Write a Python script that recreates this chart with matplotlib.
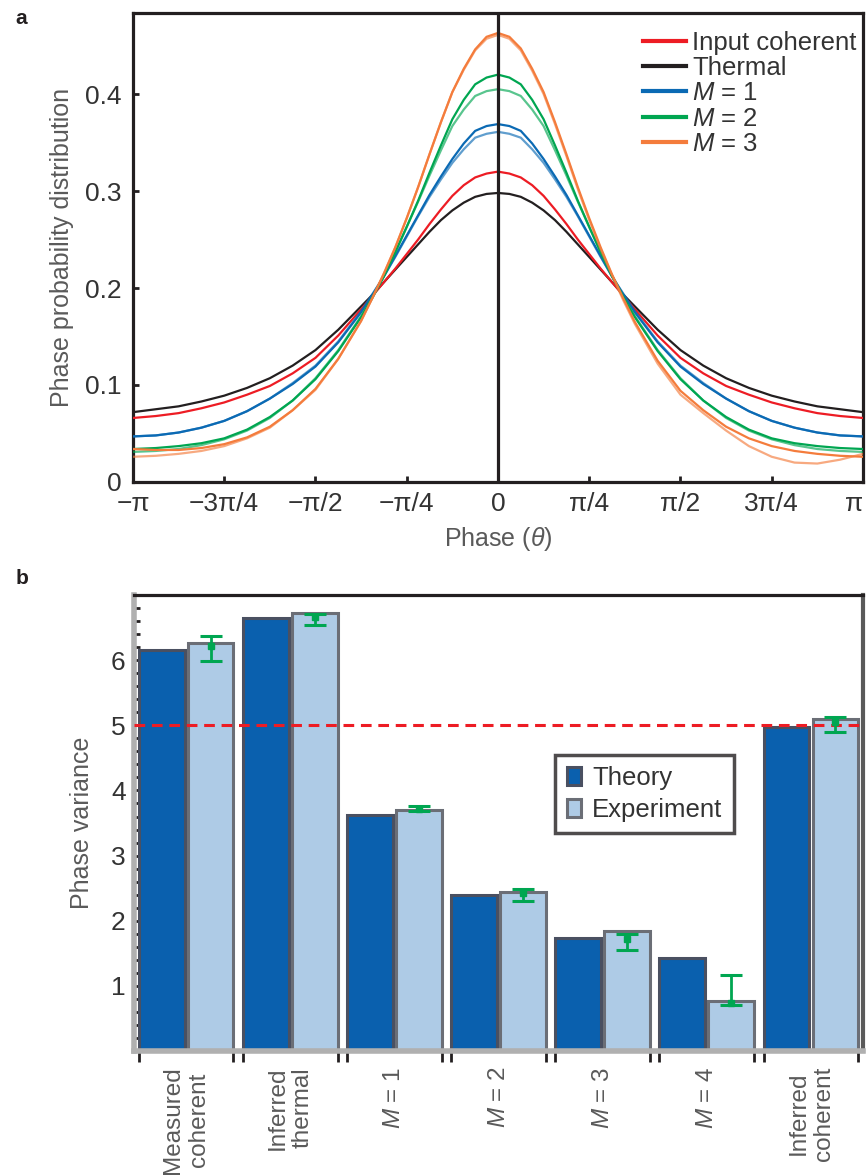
import numpy as np
import matplotlib
matplotlib.use("Agg")
from matplotlib import pyplot as plt
from matplotlib.ticker import MultipleLocator, FixedLocator

plt.rcParams['font.family'] = ['Liberation Sans', 'DejaVu Sans']
plt.rcParams['mathtext.fontset'] = 'custom'
plt.rcParams['mathtext.rm'] = 'Liberation Sans'
plt.rcParams['mathtext.it'] = 'Liberation Sans:italic'

# ---- panel a: phase distributions, phase given in units of pi/32 ----
phase_steps = [-32, -30, -28, -26, -24, -22, -20, -18, -16, -14,
               -12, -11, -10, -9, -8, -7, -6, -5, -4, -3, -2, -1, 0,
               1, 2, 3, 4, 5, 6, 7, 8, 9, 10, 11, 12,
               14, 16, 18, 20, 22, 24, 26, 28, 30, 32]
thermal = [0.072, 0.075, 0.078, 0.083, 0.089, 0.097, 0.107, 0.120, 0.136, 0.157,
           0.181, 0.193, 0.206, 0.219, 0.232, 0.245, 0.258, 0.270, 0.280, 0.288, 0.294, 0.297, 0.298,
           0.297, 0.294, 0.288, 0.280, 0.270, 0.258, 0.245, 0.232, 0.219, 0.206, 0.193, 0.181,
           0.157, 0.136, 0.120, 0.107, 0.097, 0.089, 0.083, 0.078, 0.075, 0.072]
coherent = [0.066, 0.068, 0.071, 0.076, 0.082, 0.090, 0.099, 0.112, 0.128, 0.151,
            0.178, 0.192, 0.206, 0.220, 0.235, 0.250, 0.266, 0.281, 0.295, 0.306, 0.314, 0.318, 0.320,
            0.318, 0.314, 0.306, 0.295, 0.281, 0.266, 0.250, 0.235, 0.220, 0.206, 0.192, 0.178,
            0.151, 0.128, 0.112, 0.099, 0.090, 0.082, 0.076, 0.071, 0.068, 0.066]
m1_a = [0.047, 0.048, 0.051, 0.056, 0.063, 0.073, 0.086, 0.101, 0.119, 0.144,
        0.175, 0.193, 0.212, 0.233, 0.254, 0.275, 0.296, 0.315, 0.333, 0.349, 0.362, 0.367, 0.369,
        0.367, 0.362, 0.349, 0.333, 0.315, 0.296, 0.275, 0.254, 0.233, 0.212, 0.193, 0.175,
        0.144, 0.119, 0.101, 0.086, 0.073, 0.063, 0.056, 0.051, 0.048, 0.047]
m1_b = [0.047, 0.048, 0.051, 0.056, 0.063, 0.073, 0.086, 0.102, 0.120, 0.145,
        0.176, 0.194, 0.212, 0.232, 0.253, 0.274, 0.294, 0.312, 0.329, 0.343, 0.355, 0.359, 0.361,
        0.359, 0.355, 0.343, 0.329, 0.312, 0.294, 0.274, 0.253, 0.232, 0.212, 0.194, 0.176,
        0.145, 0.120, 0.102, 0.086, 0.073, 0.063, 0.056, 0.051, 0.048, 0.047]
m2_a = [0.034, 0.035, 0.037, 0.040, 0.045, 0.054, 0.067, 0.084, 0.106, 0.135,
        0.170, 0.190, 0.212, 0.237, 0.263, 0.290, 0.319, 0.347, 0.374, 0.394, 0.410, 0.417, 0.420,
        0.417, 0.410, 0.394, 0.374, 0.347, 0.319, 0.290, 0.263, 0.237, 0.212, 0.190, 0.170,
        0.135, 0.106, 0.084, 0.067, 0.054, 0.045, 0.040, 0.037, 0.035, 0.034]
m2_b = [0.031, 0.032, 0.034, 0.038, 0.044, 0.053, 0.066, 0.084, 0.107, 0.136,
        0.171, 0.191, 0.213, 0.237, 0.263, 0.289, 0.316, 0.342, 0.367, 0.384, 0.398, 0.403, 0.405,
        0.403, 0.398, 0.384, 0.367, 0.342, 0.316, 0.289, 0.263, 0.237, 0.213, 0.191, 0.171,
        0.136, 0.107, 0.084, 0.066, 0.053, 0.044, 0.038, 0.034, 0.032, 0.031]
m3_a = [0.034, 0.033, 0.033, 0.035, 0.039, 0.046, 0.057, 0.074, 0.096, 0.127,
        0.166, 0.190, 0.215, 0.242, 0.272, 0.304, 0.338, 0.371, 0.402, 0.426, 0.446, 0.459, 0.463,
        0.459, 0.447, 0.426, 0.402, 0.371, 0.338, 0.304, 0.272, 0.242, 0.214, 0.189, 0.165,
        0.125, 0.094, 0.074, 0.057, 0.045, 0.037, 0.032, 0.029, 0.027, 0.026]
m3_b = [0.026, 0.027, 0.029, 0.032, 0.037, 0.045, 0.056, 0.074, 0.095, 0.127,
        0.166, 0.190, 0.215, 0.242, 0.272, 0.304, 0.338, 0.371, 0.402, 0.425, 0.445, 0.457, 0.461,
        0.457, 0.445, 0.424, 0.400, 0.369, 0.336, 0.302, 0.270, 0.240, 0.213, 0.187, 0.163,
        0.122, 0.090, 0.071, 0.053, 0.037, 0.026, 0.020, 0.019, 0.023, 0.029]

phase_tick_labels = ['\u2212\u03c0', '\u22123\u03c0/4', '\u2212\u03c0/2', '\u2212\u03c0/4', '0',
                     '\u03c0/4', '\u03c0/2', '3\u03c0/4', '\u03c0']

# ---- panel b: phase variance ----
groups = ['Measured\ncoherent', 'Inferred\nthermal', '$M$ = 1', '$M$ = 2', '$M$ = 3', '$M$ = 4', 'Inferred\ncoherent']
theory = [6.15, 6.65, 3.63, 2.39, 1.74, 1.43, 4.98]
experiment = [6.26, 6.72, 3.70, 2.44, 1.84, 0.77, 5.10]
exp_point = [6.22, 6.66, 3.72, 2.42, 1.72, 0.74, 5.05]
exp_low = [5.99, 6.54, 3.68, 2.31, 1.55, 0.71, 4.89]
exp_high = [6.37, 6.71, 3.76, 2.48, 1.80, 1.17, 5.12]
coherent_limit = 5.0

RED = '#ed1c24'
BLACK = '#231f20'
BLUE = '#0b6ab4'
GREEN = '#00a651'
ORANGE = '#f47c3c'
TXT = '#333333'
LBL = '#5a5a5a'

fig = plt.figure(figsize=(8.68, 11.75), dpi=100)

# ---------------- a ----------------
ax1 = fig.add_axes([0.1532, 0.5898, 0.841, 0.3991])
theta = np.array(phase_steps) * np.pi / 32
lw = 1.6
ax1.plot(theta, thermal, color=BLACK, lw=lw, label='Thermal', zorder=3)
ax1.plot(theta, coherent, color=RED, lw=lw, label='Input coherent', zorder=3)
ax1.plot(theta, m1_a, color=BLUE, lw=lw, label='$M$ = 1', zorder=3)
ax1.plot(theta, m1_b, color=BLUE, lw=lw, alpha=0.65, zorder=3)
ax1.plot(theta, m2_a, color=GREEN, lw=lw, label='$M$ = 2', zorder=3)
ax1.plot(theta, m2_b, color=GREEN, lw=lw, alpha=0.65, zorder=3)
ax1.plot(theta, m3_a, color=ORANGE, lw=lw, label='$M$ = 3', zorder=3)
ax1.plot(theta, m3_b, color=ORANGE, lw=lw, alpha=0.65, zorder=3)
ax1.axvline(0, color=BLACK, lw=2.3, zorder=4)

ax1.set_xlim(-np.pi, np.pi)
ax1.set_ylim(0, 0.4835)
ax1.set_xticks(np.arange(-4, 5) * np.pi / 4)
ax1.set_xticklabels(phase_tick_labels)
ax1.get_xticklabels()[-1].set_horizontalalignment('right')
ax1.set_yticks([0, 0.1, 0.2, 0.3, 0.4])
ax1.set_yticklabels(['0', '0.1', '0.2', '0.3', '0.4'])
ax1.tick_params(direction='in', length=4, width=2, labelsize=19, labelcolor=TXT, color=BLACK)
ax1.tick_params(axis='x', pad=7)
ax1.tick_params(axis='y', pad=8)
for s in ax1.spines.values():
    s.set_linewidth(2.3)
    s.set_color(BLACK)
ax1.set_xlabel('Phase ($\\theta$)', fontsize=18, color=LBL, labelpad=7)
ax1.set_ylabel('Phase probability distribution', fontsize=18, color=LBL, labelpad=8)

h, l = ax1.get_legend_handles_labels()
order = [1, 0, 2, 3, 4]
leg = ax1.legend([h[i] for i in order], [l[i] for i in order], loc='upper left',
                 bbox_to_anchor=(0.699, 0.962), frameon=False, fontsize=18.5,
                 handlelength=1.65, handletextpad=0.25, labelspacing=0.05, borderpad=0,
                 borderaxespad=0)
for t in leg.get_texts():
    t.set_color(TXT)
for ln in leg.get_lines():
    ln.set_linewidth(3)

fig.text(0.018, 0.984, 'a', fontsize=15, fontweight='bold', color=BLACK, va='center')

# ---------------- b ----------------
ax2 = fig.add_axes([0.1544, 0.1055, 0.8399, 0.3881])
x = np.arange(len(groups))
bw = 0.44
ax2.bar(x - 0.235, theory, width=bw, color='#0a60ae', edgecolor='#4a5061', linewidth=2.2,
        label='Theory', zorder=2)
ax2.bar(x + 0.235, experiment, width=bw, color='#aecbe6', edgecolor='#6b6e76', linewidth=2.2,
        label='Experiment', zorder=2)
ax2.axhline(coherent_limit, color=RED, lw=2.2, dashes=(3.5, 2.2), zorder=5)
pts = np.array(exp_point)
yerr = [pts - np.array(exp_low), np.array(exp_high) - pts]
ax2.errorbar(x + 0.235, pts, yerr=yerr, fmt='s', color=GREEN, ms=5, elinewidth=2,
             capsize=8, capthick=2.2, zorder=6)

ax2.set_xlim(-0.5, 6.5)
ax2.set_ylim(0, 7.0)
ax2.set_yticks([1, 2, 3, 4, 5, 6])
ax2.yaxis.set_minor_locator(MultipleLocator(0.2))
ax2.tick_params(axis='y', which='major', direction='in', length=7, width=2, color=BLACK,
                labelsize=19, labelcolor=TXT, pad=6)
ax2.tick_params(axis='y', which='minor', direction='in', length=4, width=2, color=BLACK)
ax2.set_xticks(x)
ax2.set_xticklabels(groups, rotation=90, va='top', ha='center', multialignment='center')
ax2.xaxis.set_minor_locator(FixedLocator(np.concatenate([x - 0.455, x + 0.455])))
ax2.tick_params(axis='x', which='major', length=0, labelsize=17.5, labelcolor=LBL, pad=11)
ax2.tick_params(axis='x', which='minor', direction='out', length=8, width=2, color=BLACK)
ax2.spines['top'].set_color(BLACK)
ax2.spines['top'].set_linewidth(2.3)
ax2.spines['left'].set_color('#b0b0b0')
ax2.spines['left'].set_linewidth(4)
ax2.spines['bottom'].set_color('#b0b0b0')
ax2.spines['bottom'].set_linewidth(4)
ax2.spines['right'].set_color('#5a5a5a')
ax2.spines['right'].set_linewidth(3)
ax2.set_ylabel('Phase variance', fontsize=18, color=LBL, labelpad=12)

leg2 = ax2.legend(loc='upper left', bbox_to_anchor=(0.5775, 0.65), fontsize=18.5,
                  frameon=True, fancybox=False, edgecolor=BLACK, handlelength=0.55,
                  handleheight=0.7, handletextpad=0.45, labelspacing=0.3, borderpad=0.45,
                  borderaxespad=0)
leg2.get_frame().set_linewidth(2.5)
for t in leg2.get_texts():
    t.set_color(TXT)

fig.text(0.018, 0.508, 'b', fontsize=15, fontweight='bold', color=BLACK, va='center')

fig.savefig('out.png', dpi=100)
